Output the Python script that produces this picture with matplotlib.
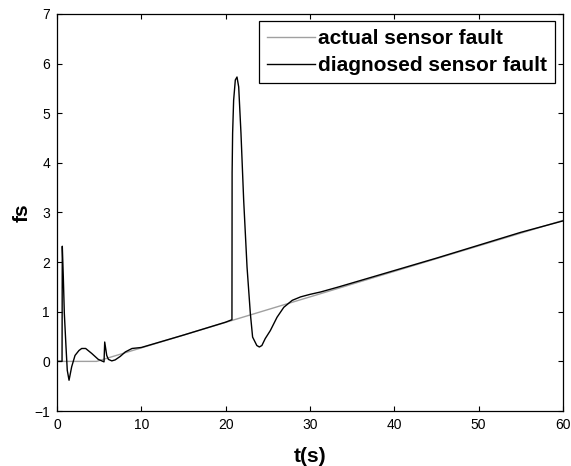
import matplotlib
matplotlib.use("Agg")
import matplotlib.pyplot as plt

plt.rcParams['font.family'] = ['Liberation Sans', 'DejaVu Sans']

# actual sensor fault (piecewise linear)
t_actual = [0, 4.7, 60]
f_actual = [0, 0, 2.84]

# diagnosed sensor fault
t_diag = [0, 0.60, 0.63, 0.75, 0.87, 1.07, 1.22, 1.43, 1.74, 2.14, 2.61, 2.93, 3.4,
          4.12, 4.9, 5.58, 5.66, 5.9, 6.1, 6.5, 6.9, 7.5, 8.1, 8.9, 10, 15, 20,
          20.75, 20.77, 20.83, 20.95, 21.15, 21.35, 21.55, 21.82, 22.14, 22.54,
          22.93, 23.2, 23.7, 24.0, 24.3, 24.7, 25.3, 26.1, 26.9, 27.9, 28.9,
          30, 31.3, 33.4, 35, 40, 45, 50, 55, 60]
f_diag = [0, 0, 2.32, 1.7, 0.97, 0.29, -0.18, -0.38, -0.11, 0.12, 0.22, 0.26, 0.26,
          0.16, 0.04, -0.01, 0.39, 0.12, 0.04, 0.01, 0.03, 0.10, 0.19, 0.26, 0.28, 0.53, 0.79,
          0.84, 3.8, 4.6, 5.26, 5.67, 5.73, 5.53, 4.6, 3.25, 1.9,
          0.97, 0.49, 0.32, 0.29, 0.32, 0.46, 0.62, 0.89, 1.09, 1.23, 1.30,
          1.35, 1.40, 1.50, 1.58, 1.83, 2.08, 2.34, 2.60, 2.83]

xticks = [0, 10, 20, 30, 40, 50, 60]
yticks = [-1, 0, 1, 2, 3, 4, 5, 6, 7]

fig = plt.figure(figsize=(5.71, 4.66), dpi=100)
ax = fig.add_axes([0.0998, 0.118, 0.886, 0.852])

ax.plot(t_actual, f_actual, color='#a0a0a0', lw=1.0, label='actual sensor fault')
ax.plot(t_diag, f_diag, color='black', lw=1.0, label='diagnosed sensor fault')

ax.set_xlim(0, 60)
ax.set_ylim(-1, 7)
ax.set_xticks(xticks)
ax.set_yticks(yticks)
ax.tick_params(direction='in', length=3.3, width=0.8, top=True, right=True,
               labelsize=10, colors='black')
ax.tick_params(axis='x', pad=5)
ax.tick_params(axis='y', pad=5)
for s in ax.spines.values():
    s.set_linewidth(0.9)
    s.set_color('black')

ax.set_xlabel('t(s)', fontsize=15, fontweight='bold', labelpad=11)
ax.set_ylabel('fs', fontsize=15, fontweight='bold', labelpad=2)

leg = ax.legend(loc='upper right', bbox_to_anchor=(0.984, 0.982), borderaxespad=0,
                prop={'size': 15, 'weight': 'bold'}, fancybox=False,
                edgecolor='black', framealpha=1, handlelength=2.3,
                handletextpad=0.15, labelspacing=0.4, borderpad=0.38)
leg.get_frame().set_linewidth(0.9)

fig.savefig('out.png', dpi=100)
